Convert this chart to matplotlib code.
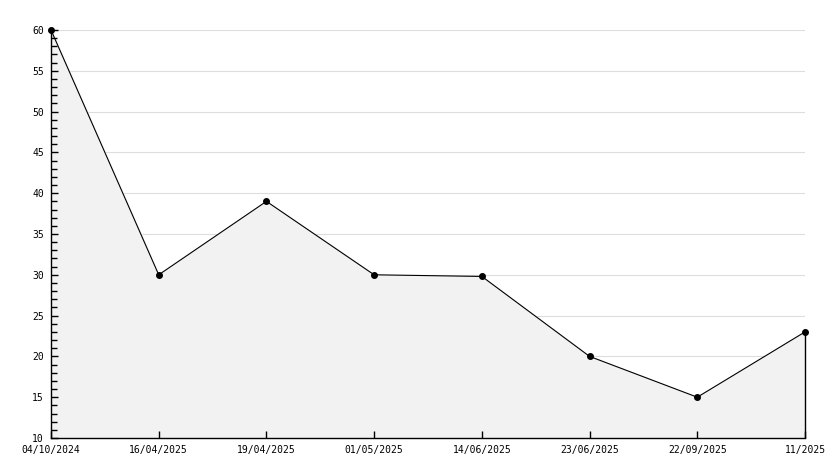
import matplotlib
matplotlib.use("Agg")
import matplotlib.pyplot as plt
from matplotlib.ticker import MultipleLocator

dates = ["04/10/2024", "16/04/2025", "19/04/2025", "01/05/2025",
         "14/06/2025", "23/06/2025", "22/09/2025", "11/2025"]
values = [60, 30, 39, 30, 29.8, 20, 15, 23]
yticks = [10, 15, 20, 25, 30, 35, 40, 45, 50, 55, 60]

plt.rcParams['font.family'] = ['DejaVu Sans Mono']
plt.rcParams['font.size'] = 7

fig = plt.figure(figsize=(8.34, 4.68), dpi=100)
ax = fig.add_axes([51/834, 1 - 438/468, 754/834, 408/468])

x = list(range(len(values)))
# grid under the fill
for t in yticks[1:]:
    ax.axhline(t, color="#dddddd", linewidth=0.8, zorder=0.5)
ax.fill_between(x, values, 10, color="#f2f2f2", zorder=1)
ax.plot(x, values, color="black", linewidth=0.8, marker="o", markersize=4, zorder=3, clip_on=False)
ax.vlines(x[-1], 10, values[-1], color="black", linewidth=1.0, zorder=2, clip_on=False)

ax.set_xlim(0, len(values) - 1)
ax.set_ylim(10, 60)
ax.set_xticks(x)
ax.set_xticklabels(dates)
ax.yaxis.set_major_locator(MultipleLocator(5))
ax.yaxis.set_minor_locator(MultipleLocator(1))

for s in ["top", "right"]:
    ax.spines[s].set_visible(False)
ax.spines["left"].set_linewidth(1.0)
ax.spines["bottom"].set_linewidth(1.0)

ax.tick_params(axis="both", which="major", direction="in", length=5, width=1)
ax.tick_params(axis="y", which="minor", direction="in", length=4, width=1)
ax.tick_params(axis="y", pad=5)
ax.tick_params(axis="x", pad=5)

fig.savefig("out.png", dpi=100)
